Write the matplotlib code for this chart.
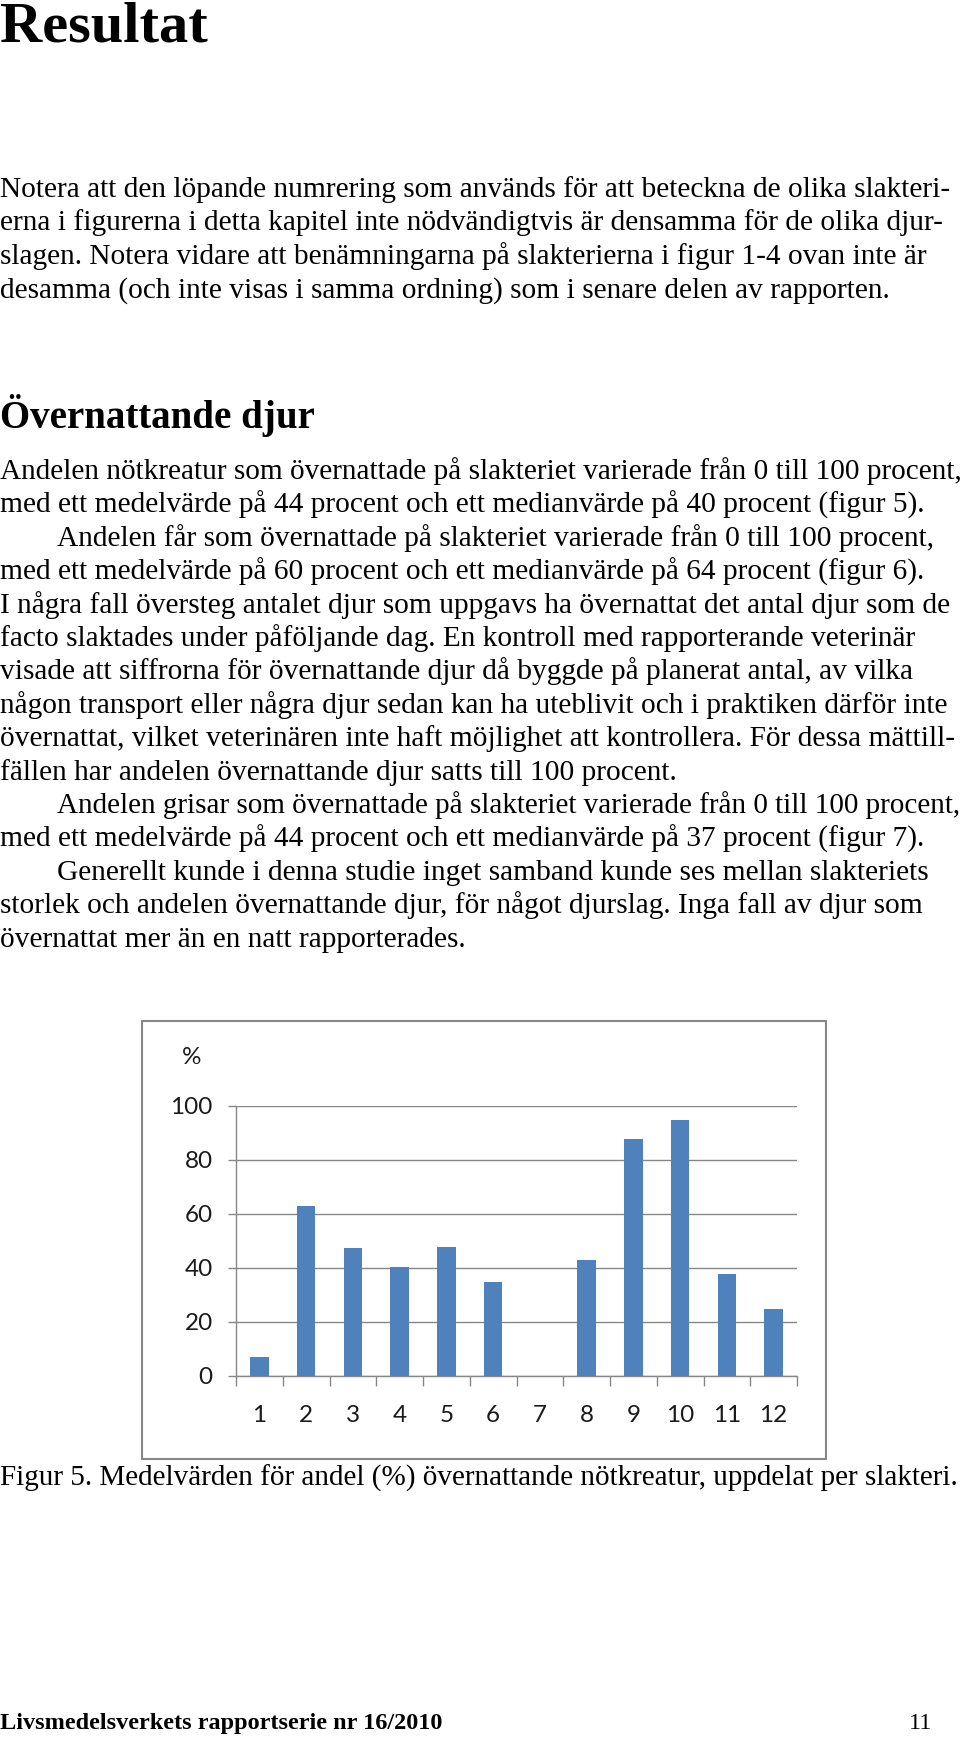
import matplotlib
matplotlib.use('Agg')
import matplotlib.pyplot as plt
from matplotlib.patches import Rectangle

# data
slakterier = ['1', '2', '3', '4', '5', '6', '7', '8', '9', '10', '11', '12']
andel = [7, 63, 47.3, 40.4, 47.8, 34.7, 0, 43, 87.7, 95, 37.7, 24.7]
yticks = [0, 20, 40, 60, 80, 100]

W, H = 960, 1738
fig = plt.figure(figsize=(W / 100, H / 100), dpi=100)
fig.patch.set_facecolor('white')
renderer = fig.canvas.get_renderer()

serif = 'Liberation Serif'
body = 21.2


def put(x, y, s, **kw):
    # x, y in pixels from top-left, y is the baseline
    t = fig.text(x / W, 1 - y / H, s, va='baseline', ha=kw.pop('ha', 'left'),
                 family=kw.pop('family', serif), fontsize=kw.pop('fontsize', body),
                 color='black', **kw)
    # shrink a line a little if it would run off the page
    bb = t.get_window_extent(renderer)
    if bb.x1 > W - 2:
        t.set_fontsize(t.get_fontsize() * (W - 2 - bb.x0) / bb.width)
    return t


put(0, 42, 'Resultat', fontsize=42, fontweight='bold')

para1 = [
    'Notera att den löpande numrering som används för att beteckna de olika slakteri-',
    'erna i figurerna i detta kapitel inte nödvändigtvis är densamma för de olika djur-',
    'slagen. Notera vidare att benämningarna på slakterierna i figur 1-4 ovan inte är',
    'desamma (och inte visas i samma ordning) som i senare delen av rapporten.',
]
for i, line in enumerate(para1):
    put(0, 197 + i * 33.4, line)

put(0, 428, 'Övernattande djur', fontsize=28, fontweight='bold')

para2 = [
    (0, 'Andelen nötkreatur som övernattade på slakteriet varierade från 0 till 100 procent,'),
    (0, 'med ett medelvärde på 44 procent och ett medianvärde på 40 procent (figur 5).'),
    (57, 'Andelen får som övernattade på slakteriet varierade från 0 till 100 procent,'),
    (0, 'med ett medelvärde på 60 procent och ett medianvärde på 64 procent (figur 6).'),
    (0, 'I några fall översteg antalet djur som uppgavs ha övernattat det antal djur som de'),
    (0, 'facto slaktades under påföljande dag. En kontroll med rapporterande veterinär'),
    (0, 'visade att siffrorna för övernattande djur då byggde på planerat antal, av vilka'),
    (0, 'någon transport eller några djur sedan kan ha uteblivit och i praktiken därför inte'),
    (0, 'övernattat, vilket veterinären inte haft möjlighet att kontrollera. För dessa mättill-'),
    (0, 'fällen har andelen övernattande djur satts till 100 procent.'),
    (57, 'Andelen grisar som övernattade på slakteriet varierade från 0 till 100 procent,'),
    (0, 'med ett medelvärde på 44 procent och ett medianvärde på 37 procent (figur 7).'),
    (57, 'Generellt kunde i denna studie inget samband kunde ses mellan slakteriets'),
    (0, 'storlek och andelen övernattande djur, för något djurslag. Inga fall av djur som'),
    (0, 'övernattat mer än en natt rapporterades.'),
]
for i, (ind, line) in enumerate(para2):
    put(ind, 479 + i * 33.4, line)

# chart frame
fig.add_artist(Rectangle((142 / W, 1 - 1459 / H), (826 - 142) / W, (1459 - 1021) / H,
                         transform=fig.transFigure, fill=False,
                         edgecolor='#878787', linewidth=1.5))

# axes: x 236..797 px, y value 0 at 1376 px and 100 at 1106 px
ax = fig.add_axes([236 / W, 1 - 1376 / H, (797 - 236) / W, (1376 - 1106) / H])
x = list(range(len(slakterier)))
ax.bar(x, andel, width=0.4, color='#4F81BD', zorder=3)
ax.set_xlim(-0.5, len(slakterier) - 0.5)
ax.set_ylim(0, 100)
ax.set_yticks(yticks)
ax.set_xticks(x)
ax.set_xticklabels(slakterier)
ax.set_xticks([i - 0.5 for i in range(len(slakterier) + 1)], minor=True)
ax.grid(axis='y', color='#878787', linewidth=1.0, zorder=0)
for s in ['top', 'right']:
    ax.spines[s].set_visible(False)
for s in ['left', 'bottom']:
    ax.spines[s].set_color('#878787')
    ax.spines[s].set_linewidth(1.0)
ax.tick_params(axis='y', length=5.8, width=1.0, color='#878787', pad=11,
               labelsize=17.5, labelcolor='#1a1a1a')
ax.tick_params(axis='x', which='major', length=0, pad=21, labelsize=17.5,
               labelcolor='#1a1a1a')
ax.tick_params(axis='x', which='minor', length=7.2, width=1.0, color='#878787')
for lab in ax.get_xticklabels() + ax.get_yticklabels():
    lab.set_family('Lato')
fig.text(192 / W, 1 - 1058 / H, '%', ha='center', va='center', family='Lato',
         fontsize=17.5, color='#1a1a1a')

put(0, 1486, 'Figur 5. Medelvärden för andel (%) övernattande nötkreatur, uppdelat per slakteri.',
    fontsize=21)
put(0, 1729, 'Livsmedelsverkets rapportserie nr 16/2010', fontsize=17.5, fontweight='bold')
put(932, 1729, '11', fontsize=17.5, ha='right')

fig.savefig('out.png', dpi=100)
